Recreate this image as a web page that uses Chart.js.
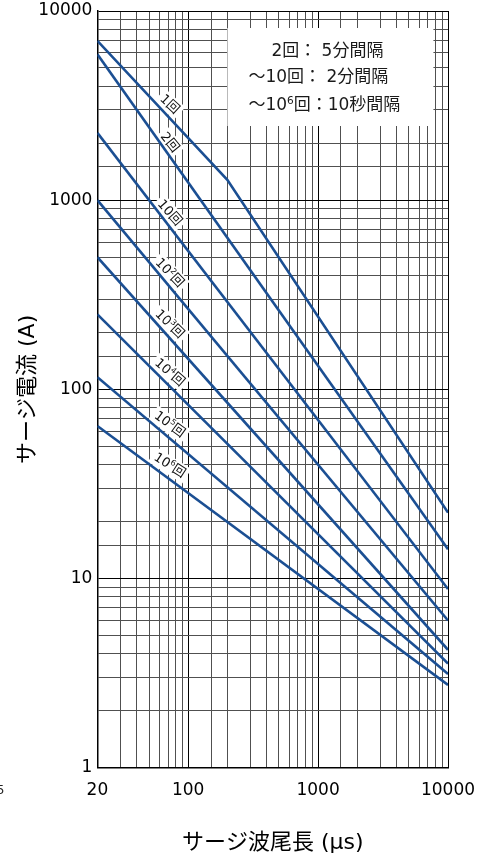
<!DOCTYPE html>
<html>
<head>
<meta charset="utf-8">
<script src="https://cdn.jsdelivr.net/npm/chart.js@4/dist/chart.umd.min.js"></script>
<style>
  html, body { margin: 0; padding: 0; background: #fff; }
  #wrap { width: 482px; height: 857px; position: relative; }
</style>
</head>
<body>
<div id="wrap"><canvas id="c" width="482" height="857"></canvas></div>
<script>
// Surge wave tail length (μs) where each curve's points are given
const tailKnee = [20, 200, 10000];
const tailEnds = [20, 10000];

// Permissible surge current (A) for each number of applications
const surgeOnce   = [6960, 1280, 22.3];
const surgeTwice  = [5900, 14.3];
const surge10     = [2270, 8.8];
const surge1e2    = [1000, 6.0];
const surge1e3    = [500, 4.2];
const surge1e4    = [249, 3.55];
const surge1e5    = [116, 3.13];
const surge1e6    = [64, 2.74];

const curveLabels = ['1回', '2回', '10回', '10^2回', '10^3回', '10^4回', '10^5回', '10^6回'];

const xTickLabels = [20, 100, 1000, 10000];
const yTickLabels = [1, 10, 100, 1000, 10000];

// Application interval notes
const intervalNotes = [
  '2回： 5分間隔',
  '～10回： 2分間隔',
  '～10^6回：10秒間隔'
];

const FONT = '"DejaVu Sans", "Noto Sans CJK JP", sans-serif';
const LINE_BLUE = '#1b4f93';

function pairs(xs, ys) { return xs.map((x, i) => ({ x: x, y: ys[i] })); }

const series = [
  pairs(tailKnee, surgeOnce),
  pairs(tailEnds, surgeTwice),
  pairs(tailEnds, surge10),
  pairs(tailEnds, surge1e2),
  pairs(tailEnds, surge1e3),
  pairs(tailEnds, surge1e4),
  pairs(tailEnds, surge1e5),
  pairs(tailEnds, surge1e6)
];

function isDecade(v) {
  const l = Math.log10(v);
  return Math.abs(l - Math.round(l)) < 1e-9;
}
function matchTick(list, v) {
  return list.find(t => Math.abs(t - v) / t < 1e-6);
}

// split "10^6回" into normal / superscript runs
function parseRuns(s) {
  const runs = [];
  const re = /\^(\d)/g;
  let last = 0, m;
  while ((m = re.exec(s)) !== null) {
    if (m.index > last) runs.push({ t: s.slice(last, m.index), sup: false });
    runs.push({ t: m[1], sup: true });
    last = re.lastIndex;
  }
  if (last < s.length) runs.push({ t: s.slice(last), sup: false });
  return runs;
}
function runsWidth(ctx, runs, size) {
  let w = 0;
  runs.forEach(r => {
    ctx.font = (r.sup ? size * 0.62 : size) + 'px ' + FONT;
    w += ctx.measureText(r.t).width;
  });
  return w;
}
function drawRuns(ctx, runs, x, y, size) {
  let cx = x;
  runs.forEach(r => {
    const s = r.sup ? size * 0.62 : size;
    ctx.font = s + 'px ' + FONT;
    ctx.fillText(r.t, cx, r.sup ? y - size * 0.3 : y);
    cx += ctx.measureText(r.t).width;
  });
}

// y pixel of a dataset polyline at a given x pixel
function lineAt(meta, px) {
  const pts = meta.data;
  for (let i = 0; i < pts.length - 1; i++) {
    const a = pts[i], b = pts[i + 1];
    if (px >= a.x && px <= b.x) {
      const t = (px - a.x) / (b.x - a.x);
      return { y: a.y + t * (b.y - a.y), ang: Math.atan2(b.y - a.y, b.x - a.x) };
    }
  }
  const a = pts[0], b = pts[1];
  return { y: a.y, ang: Math.atan2(b.y - a.y, b.x - a.x) };
}

const notesPlugin = {
  id: 'notes',
  beforeDatasetsDraw(chart) {
    const ctx = chart.ctx;
    const area = chart.chartArea;
    const xs = chart.scales.x;
    ctx.save();

    // interval notes box
    const bx = area.left + 130, by = area.top + 17;
    ctx.fillStyle = '#fff';
    ctx.fillRect(bx, by, 206, 98);
    ctx.fillStyle = '#1a1a1a';
    ctx.textBaseline = 'middle';
    ctx.textAlign = 'left';
    const noteX = [bx + 44, bx + 21, bx + 21];
    const noteY = [by + 24, by + 50, by + 78];
    intervalNotes.forEach((s, i) => drawRuns(ctx, parseRuns(s), noteX[i], noteY[i], 17));

    // curve labels, set just above each curve
    const px = xs.getPixelForValue(72);
    curveLabels.forEach((lbl, i) => {
      const meta = chart.getDatasetMeta(i);
      const p = lineAt(meta, px);
      const runs = parseRuns(lbl);
      const size = 13;
      const w = runsWidth(ctx, runs, size);
      ctx.save();
      ctx.translate(px, p.y - 14);
      ctx.rotate(p.ang - 4 * Math.PI / 180);
      ctx.fillStyle = '#fff';
      ctx.fillRect(-w / 2 - 3, -8.5, w + 6, 17);
      ctx.fillStyle = '#111';
      ctx.textBaseline = 'middle';
      drawRuns(ctx, runs, -w / 2, 0.5, size);
      ctx.restore();
    });
    ctx.restore();
  },
  afterDraw(chart) {
    const ctx = chart.ctx;
    ctx.save();
    ctx.fillStyle = '#222';
    ctx.font = '12px ' + FONT;
    ctx.textAlign = 'right';
    ctx.textBaseline = 'middle';
    ctx.fillText('5', 4.5, 791);
    ctx.restore();
  }
};

const gridColor = c => (c.tick && isDecade(c.tick.value)) ? '#000' : '#505050';

new Chart(document.getElementById('c'), {
  type: 'line',
  data: {
    datasets: series.map((d, i) => ({
      label: curveLabels[i],
      data: d,
      borderColor: LINE_BLUE,
      borderWidth: 2.6,
      pointRadius: 0,
      tension: 0,
      fill: false
    }))
  },
  options: {
    responsive: false,
    devicePixelRatio: 1,
    animation: false,
    layout: { padding: { top: 11, right: 34, bottom: 0, left: 0 } },
    plugins: { legend: { display: false }, tooltip: { enabled: false } },
    scales: {
      x: {
        type: 'logarithmic',
        position: 'bottom',
        min: 20,
        max: 10000,
        afterFit: s => { s.height = 89.3; s.paddingLeft = 0; s.paddingRight = 0; },
        grid: { color: gridColor, lineWidth: 1, drawTicks: false },
        border: { display: true, color: '#000', width: 1.5 },
        ticks: {
          autoSkip: false,
          maxRotation: 0,
          padding: 13,
          color: '#000',
          font: { family: FONT, size: 17 },
          callback: v => { const t = matchTick(xTickLabels, v); return t ? String(t) : ''; }
        },
        title: {
          display: true,
          text: 'サージ波尾長 (μs)',
          color: '#000',
          font: { family: FONT, size: 22 },
          padding: { top: 0, bottom: 1 }
        }
      },
      y: {
        type: 'logarithmic',
        position: 'left',
        min: 1,
        max: 10000,
        afterFit: s => { s.width = 97.4; s.paddingTop = 0; s.paddingBottom = 0; },
        grid: { color: gridColor, lineWidth: 1, drawTicks: false },
        border: { display: true, color: '#000', width: 1.5 },
        ticks: {
          autoSkip: false,
          padding: 5,
          color: '#000',
          font: { family: FONT, size: 17 },
          callback: v => { const t = matchTick(yTickLabels, v); return t ? String(t) : ''; }
        },
        title: {
          display: true,
          text: 'サージ電流 (A)',
          color: '#000',
          font: { family: FONT, size: 22 },
          padding: { top: 15, bottom: 0 }
        }
      }
    }
  },
  plugins: [notesPlugin]
});
</script>
</body>
</html>
